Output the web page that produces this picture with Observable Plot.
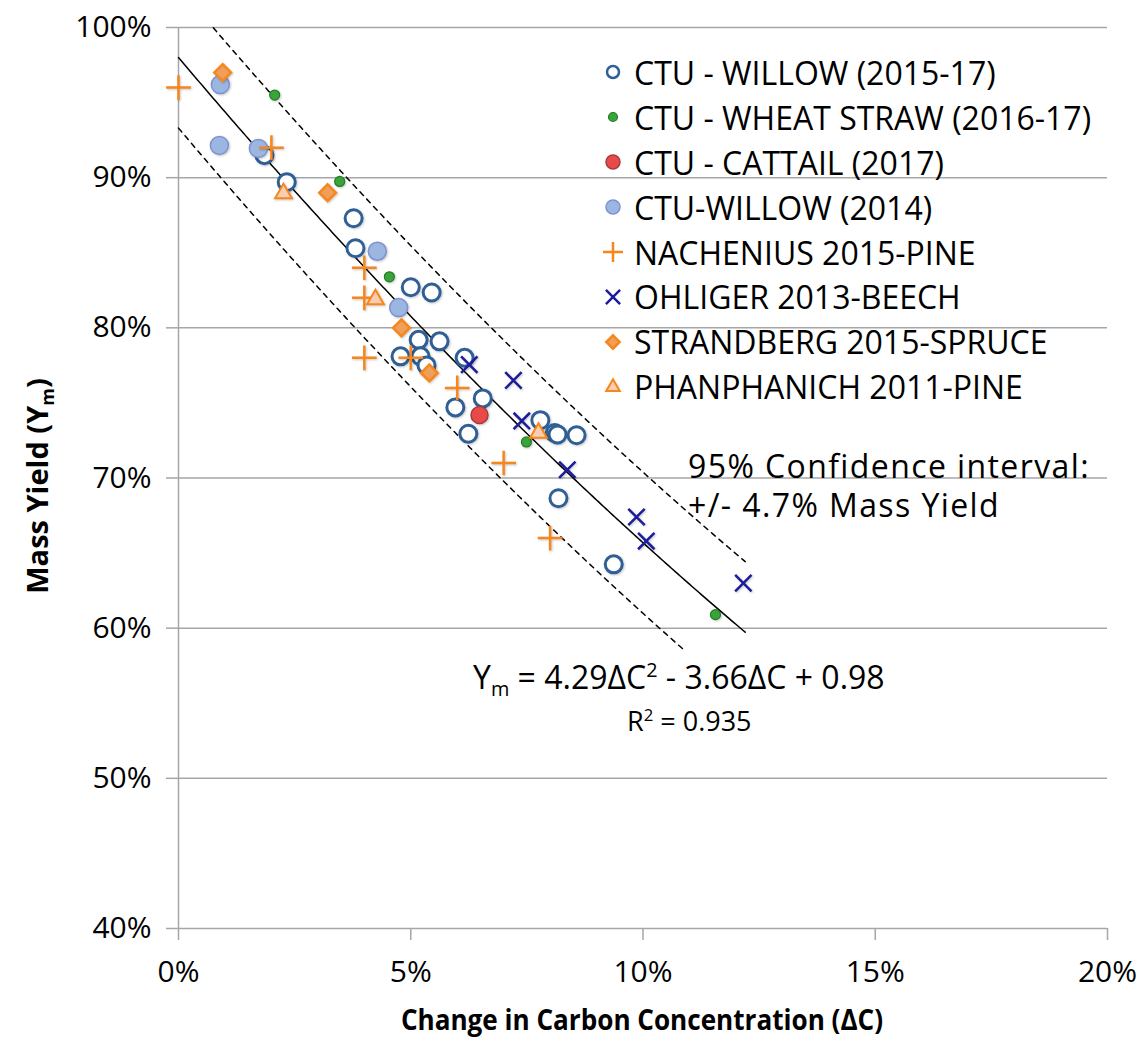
<!DOCTYPE html>
<html>
<head>
<meta charset="utf-8">
<script src="https://cdn.jsdelivr.net/npm/d3@7"></script>
<script src="https://cdn.jsdelivr.net/npm/@observablehq/plot@0.6"></script>
<style>
  body { margin: 0; background: #fff; }
  #wrap { position: relative; width: 1141px; height: 1047px; font-family: "Open Sans", sans-serif; color: #000; }
  #wrap svg { display: block; }
  .ov { position: absolute; white-space: nowrap; line-height: 1; }
  .axis-title { font-weight: bold; font-size: 29px; }
  .note { font-size: 32px; letter-spacing: 1.4px; }
  .legend { position: absolute; left: 600px; top: 50px; font-size: 32px; }
  .legend .row { display: flex; align-items: center; height: 44.9px; }
  .legend svg { width: 26px; height: 26px; margin-right: 8px; }
  sub, sup { font-size: 62%; line-height: 0; }
  .dots path, .dots circle { filter: drop-shadow(1px 1.5px 1px rgba(0,0,0,0.22)); }
</style>
</head>
<body>
<div id="wrap"></div>
<script>
// ΔC (%) and mass yield (%) for each source
const willow1517 = [
  [1.85, 91.5], [2.33, 89.7], [3.77, 87.3], [3.81, 85.3], [5.0, 82.7], [5.45, 82.35],
  [5.17, 79.2], [5.62, 79.1], [4.78, 78.1], [5.21, 78.1], [5.34, 77.5], [6.16, 78.0],
  [6.55, 75.3], [5.96, 74.7], [6.24, 72.95], [7.79, 73.85], [8.1, 73.0], [8.16, 72.9],
  [8.57, 72.85], [8.18, 68.65], [9.37, 64.25]
];
const wheatStraw = [[2.07, 95.5], [3.47, 89.75], [4.54, 83.4], [7.49, 72.4], [11.56, 60.9]];
const cattail = [[6.48, 74.2]];
const willow2014 = [[0.9, 96.2], [0.88, 92.15], [1.72, 91.95], [4.28, 85.1], [4.74, 81.35]];
const nachenius = [[0, 96], [2, 92], [4, 84], [4, 82], [4, 78], [5, 78], [6, 76], [7, 71], [8, 66]];
const ohliger = [[6.26, 77.55], [7.21, 76.5], [7.39, 73.8], [8.37, 70.55], [9.86, 67.4], [10.07, 65.8], [12.16, 63.0]];
const strandberg = [[0.95, 97.0], [3.21, 89.0], [4.8, 80.0], [5.4, 77.0]];
const phanphanich = [[2.26, 88.95], [4.24, 81.9], [7.75, 73.0]];

// Quadratic fit Ym = a·ΔC² + b·ΔC + c (fractions) and its 95% band
const fitA = 4.29, fitB = -3.66, fitC = 0.98;
const band = 0.047;
const fitEnd = 12.2, lowerEnd = 10.9;

const xTicks = [0, 5, 10, 15, 20];
const yTicks = [40, 50, 60, 70, 80, 90, 100];

const series = [
  {name: "CTU - WILLOW (2015-17)", data: willow1517, symbol: "circle", r: 8.5, fill: "#fff", stroke: "#2f5f95", sw: 3, lr: 6},
  {name: "CTU - WHEAT STRAW (2016-17)", data: wheatStraw, symbol: "circle", r: 5, fill: "#3aa33a", stroke: "#1f7f24", sw: 1.2, lr: 4.5},
  {name: "CTU - CATTAIL (2017)", data: cattail, symbol: "circle", r: 8.5, fill: "#e84a4a", stroke: "#a63c3c", sw: 1.5, lr: 7},
  {name: "CTU-WILLOW (2014)", data: willow2014, symbol: "circle", r: 9, fill: "#9bb6e1", stroke: "#7e92d2", sw: 1.5, lr: 7},
  {name: "NACHENIUS 2015-PINE", data: nachenius, symbol: "plus", r: 8, fill: "none", stroke: "#f7861c", sw: 2.5, lr: 6.5},
  {name: "OHLIGER 2013-BEECH", data: ohliger, symbol: "times", r: 7.5, fill: "none", stroke: "#1c1c9c", sw: 2.5, lr: 6.5},
  {name: "STRANDBERG 2015-SPRUCE", data: strandberg, symbol: "diamond2", r: 7.5, fill: "#ee9f5c", stroke: "#f7861c", sw: 2.5, lr: 6},
  {name: "PHANPHANICH 2011-PINE", data: phanphanich, symbol: "triangle2", r: 8, fill: "#f8cdb1", stroke: "#f7861c", sw: 2, lr: 6.5}
];

const fitY = (x) => 100 * (fitA * (x / 100) ** 2 + fitB * (x / 100) + fitC);
const curve = d3.range(0, fitEnd + 0.001, 0.05).map(x => ({x, y: fitY(x)}));
const upper = curve.map(d => ({x: d.x, y: d.y + band * 100})).filter(d => d.y <= 100);
const lower = curve.filter(d => d.x <= lowerEnd).map(d => ({x: d.x, y: d.y - band * 100}));

const chart = Plot.plot({
  width: 1141,
  height: 1047,
  marginLeft: 178,
  marginRight: 34,
  marginTop: 27,
  marginBottom: 119,
  style: {fontFamily: "'Open Sans', sans-serif", fontSize: "30px", color: "#000", background: "#fff", overflow: "visible"},
  x: {domain: [0, 20]},
  y: {domain: [40, 100]},
  marks: [
    Plot.gridY(yTicks, {stroke: "#a6a6a6", strokeOpacity: 1, strokeWidth: 1.5}),
    Plot.ruleX([0], {stroke: "#a6a6a6", strokeWidth: 1.5}),
    Plot.axisX(xTicks, {tickSize: 12, tickPadding: 20, stroke: "#a6a6a6", strokeWidth: 1.5, fill: "#000", tickFormat: d => d + "%", label: null}),
    Plot.axisY(yTicks, {tickSize: 12, tickPadding: 15, stroke: "#a6a6a6", strokeWidth: 1.5, fill: "#000", tickFormat: d => d + "%", label: null}),
    Plot.line(upper, {x: "x", y: "y", stroke: "#000", strokeWidth: 1.5, strokeDasharray: "5,5"}),
    Plot.line(lower, {x: "x", y: "y", stroke: "#000", strokeWidth: 1.5, strokeDasharray: "5,5"}),
    Plot.line(curve, {x: "x", y: "y", stroke: "#000", strokeWidth: 1.5}),
    ...series.map(s => Plot.dot(s.data, {
      x: d => d[0], y: d => d[1], symbol: s.symbol, r: s.r,
      fill: s.fill, stroke: s.stroke, strokeWidth: s.sw, className: "dots"
    }))
  ]
});

const wrap = document.getElementById("wrap");
wrap.appendChild(chart);

function addText(html, cls, css) {
  const el = document.createElement("div");
  el.className = "ov " + (cls || "");
  el.innerHTML = html;
  Object.assign(el.style, css);
  wrap.appendChild(el);
  return el;
}

// Axis titles
addText("Change in Carbon Concentration (ΔC)", "axis-title", {left: "642px", top: "1004px", transform: "translateX(-50%) scaleX(0.9)"});
addText("Mass Yield (Y<sub>m</sub>)", "axis-title", {left: "36px", top: "486px", transform: "translate(-50%,-50%) rotate(-90deg)"});

// Confidence band note
addText("95% Confidence interval:", "note", {left: "688px", top: "450px"});
addText("+/- 4.7% Mass Yield", "note", {left: "688px", top: "489px"});

// Fit equation
addText("Y<sub>m</sub> = 4.29ΔC<sup>2</sup> - 3.66ΔC + 0.98", "", {left: "473px", top: "661px", fontSize: "32px"});
addText("R<sup>2</sup> = 0.935", "", {left: "627px", top: "707px", fontSize: "27px"});

// Legend
const legend = document.createElement("div");
legend.className = "legend";
const symbolMap = {circle: d3.symbolCircle, plus: d3.symbolPlus, times: d3.symbolTimes, diamond2: d3.symbolDiamond2, triangle2: d3.symbolTriangle2};
for (const s of series) {
  const row = document.createElement("div");
  row.className = "row";
  const path = d3.symbol(symbolMap[s.symbol], Math.PI * s.lr * s.lr)();
  row.innerHTML = `<svg viewBox="-13 -13 26 26"><path d="${path}" fill="${s.fill}" stroke="${s.stroke}" stroke-width="${Math.min(s.sw, 2.5)}"/></svg><span>${s.name}</span>`;
  legend.appendChild(row);
}
wrap.appendChild(legend);
</script>
</body>
</html>
